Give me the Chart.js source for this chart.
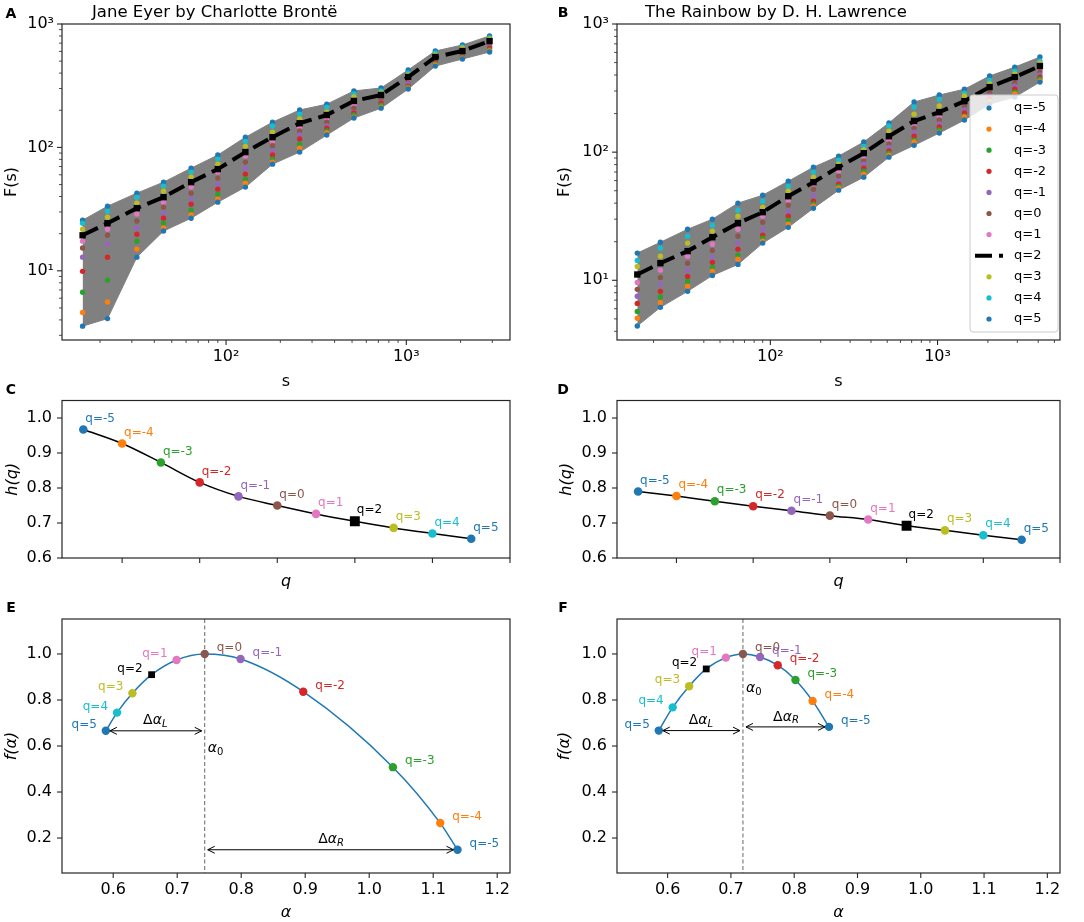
<!DOCTYPE html>
<html>
<head>
<meta charset="utf-8">
<script src="https://cdn.jsdelivr.net/npm/chart.js@4.4.1/dist/chart.umd.min.js"></script>
<style>
  body { margin: 0; background: #fff; width: 1084px; height: 922px; position: relative; overflow: hidden; font-family: "DejaVu Sans", sans-serif; }
  canvas { position: absolute; }
  .panel { position: absolute; font-weight: bold; font-size: 14px; transform: translate(-50%, -50%); }
  .title { position: absolute; font-size: 16.5px; transform: translateY(-50%); white-space: nowrap; }
</style>
</head>
<body>
<canvas id="chartA" width="540" height="400" style="left:0;top:0"></canvas>
<canvas id="chartB" width="544" height="400" style="left:540px;top:0"></canvas>
<canvas id="chartC" width="540" height="200" style="left:0;top:395px"></canvas>
<canvas id="chartD" width="544" height="200" style="left:540px;top:395px"></canvas>
<canvas id="chartE" width="540" height="322" style="left:0;top:600px"></canvas>
<canvas id="chartF" width="544" height="322" style="left:540px;top:600px"></canvas>

<div class="panel" style="left:11px;top:13px">A</div>
<div class="panel" style="left:563px;top:12px">B</div>
<div class="panel" style="left:11px;top:389px">C</div>
<div class="panel" style="left:563px;top:389px">D</div>
<div class="panel" style="left:11px;top:607px">E</div>
<div class="panel" style="left:563px;top:607px">F</div>
<div class="title" style="left:92px;top:11px">Jane Eyer by Charlotte Brontë</div>
<div class="title" style="left:645px;top:11px">The Rainbow by D. H. Lawrence</div>

<script>
const qValues = [-5, -4, -3, -2, -1, 0, 1, 2, 3, 4, 5];
const qColors = ['#1f77b4', '#ff7f0e', '#2ca02c', '#d62728', '#9467bd', '#8c564b',
                 '#e377c2', '#000000', '#bcbd22', '#17becf', '#1f77b4'];

// window sizes s
const janeS = [16, 22, 32, 45, 64, 90, 128, 181, 256, 362, 512, 724, 1024, 1448, 2048, 2896];
const rainbowS = [16, 22, 32, 45, 64, 90, 128, 181, 256, 362, 512, 724, 1024, 1448, 2048, 2896, 4096];

// F_q(s), one row per q (-5 ... 5)
const janeF = [
  [3.56, 4.1, 12.9, 21.0, 26.7, 36.0, 47.7, 73.2, 91.6, 126, 173, 208, 297, 456, 520, 593],
  [4.6, 5.6, 15.0, 22.2, 28.3, 38.1, 51.3, 76.0, 98.6, 131, 176, 212, 303, 465, 528, 604],
  [6.7, 8.4, 17.4, 24.3, 31.0, 41.8, 55.3, 80.4, 106, 136, 183, 220, 308, 474, 535, 615],
  [9.9, 12.9, 19.8, 26.7, 34.7, 45.9, 60.7, 86.7, 117, 143, 190, 229, 314, 483, 545, 638],
  [12.9, 16.5, 22.2, 29.3, 38.1, 50.4, 67.9, 93.4, 126, 149, 193, 233, 326, 492, 556, 651],
  [15.3, 19.4, 25.3, 32.8, 42.6, 56.4, 76.0, 103, 136, 160, 208, 247, 332, 501, 571, 663],
  [17.4, 21.7, 28.8, 36.0, 47.7, 63.1, 85.0, 112, 146, 173, 220, 256, 351, 520, 593, 701],
  [19.4, 24.3, 32.2, 39.5, 52.3, 66.7, 91.6, 121, 157, 183, 238, 266, 372, 540, 604, 727],
  [21.7, 27.2, 35.3, 44.2, 57.4, 73.2, 102, 133, 170, 193, 256, 276, 386, 561, 638, 756],
  [24.3, 30.4, 39.5, 48.6, 63.1, 80.4, 112, 149, 186, 212, 271, 287, 401, 582, 651, 770],
  [25.7, 33.4, 42.6, 52.3, 67.9, 86.7, 121, 160, 201, 224, 287, 303, 424, 604, 676, 800]
];
const rainbowF = [
  [4.4, 6.15, 8.2, 10.9, 13.3, 19.5, 25.9, 36.5, 50.5, 63.8, 91.4, 113, 141, 178, 237, 269, 352],
  [5.05, 6.7, 9.0, 11.8, 14.6, 20.2, 27.4, 37.9, 52.3, 67.3, 94.8, 120, 143, 188, 246, 284, 359],
  [5.7, 7.4, 9.8, 12.6, 15.7, 21.3, 29.4, 39.3, 54.2, 71.1, 98.2, 124, 149, 191, 250, 294, 372],
  [6.6, 8.2, 10.7, 13.8, 17.5, 22.5, 31.6, 41.4, 56.2, 75.0, 102, 133, 157, 202, 264, 310, 385],
  [7.5, 9.3, 12.0, 15.1, 19.5, 25.0, 34.6, 46.1, 59.3, 80.6, 109, 143, 166, 213, 274, 328, 400],
  [8.5, 10.5, 13.6, 17.1, 22.1, 28.4, 38.5, 51.4, 65.0, 85.1, 116, 154, 178, 229, 294, 346, 422],
  [9.6, 12.0, 15.4, 19.1, 25.0, 31.6, 42.2, 56.2, 71.1, 93.1, 124, 163, 191, 237, 305, 359, 438],
  [11.1, 13.6, 16.9, 21.7, 27.9, 34.0, 45.3, 58.3, 76.4, 98.2, 133, 175, 205, 250, 322, 385, 470],
  [12.8, 15.4, 19.5, 24.2, 31.6, 37.2, 49.5, 63.8, 80.6, 104, 146, 198, 229, 274, 340, 407, 496],
  [14.3, 17.8, 22.1, 26.9, 35.2, 41.4, 54.2, 69.8, 86.6, 111, 160, 225, 259, 289, 365, 429, 514],
  [16.3, 19.8, 25.0, 30.0, 40.0, 46.1, 59.3, 76.4, 93.1, 120, 169, 246, 279, 310, 393, 461, 552]
];

// generalized Hurst exponent h(q)
const janeH = [0.967, 0.927, 0.873, 0.816, 0.776, 0.750, 0.726, 0.705, 0.686, 0.670, 0.655];
const rainbowH = [0.790, 0.777, 0.762, 0.748, 0.735, 0.721, 0.710, 0.692, 0.679, 0.665, 0.652];

// singularity spectrum f(alpha)
const janeAlpha = [1.138, 1.111, 1.037, 0.897, 0.799, 0.743, 0.699, 0.660, 0.630, 0.606, 0.5885];
const janeFalpha = [0.149, 0.265, 0.508, 0.836, 0.978, 1.000, 0.974, 0.910, 0.829, 0.745, 0.666];
const rainbowAlpha = [0.855, 0.829, 0.802, 0.774, 0.746, 0.719, 0.692, 0.661, 0.634, 0.608, 0.586];
const rainbowFalpha = [0.683, 0.796, 0.887, 0.951, 0.987, 1.000, 0.984, 0.935, 0.860, 0.768, 0.667];

// tick positions
const sTicksJane = [20, 30, 40, 50, 60, 70, 80, 90, 100, 200, 300, 400, 500, 600, 700, 800, 900, 1000, 2000, 3000];
const sTicksRainbow = [20, 30, 40, 50, 60, 70, 80, 90, 100, 200, 300, 400, 500, 600, 700, 800, 900, 1000, 2000, 3000, 4000, 5000];
const fTicksJane = [3, 4, 5, 6, 7, 8, 9, 10, 20, 30, 40, 50, 60, 70, 80, 90, 100, 200, 300, 400, 500, 600, 700, 800, 900, 1000];
const fTicksRainbow = [4, 5, 6, 7, 8, 9, 10, 20, 30, 40, 50, 60, 70, 80, 90, 100, 200, 300, 400, 500, 600, 700, 800, 900, 1000];
const qTicks = [-4, -2, 0, 2, 4, 6];
const hTicks = [0.6, 0.7, 0.8, 0.9, 1.0];
const alphaTicks = [0.6, 0.7, 0.8, 0.9, 1.0, 1.1, 1.2];
const fAlphaTicks = [0.2, 0.4, 0.6, 0.8, 1.0];

const FONT = '"DejaVu Sans", sans-serif';
const INK = '#000000';
const SPINE = '#262626';
const SUP = { 0: '⁰', 1: '¹', 2: '²', 3: '³', 4: '⁴' };

function isPow10(v) {
  const e = Math.log10(v);
  return Math.abs(e - Math.round(e)) < 1e-9;
}
const logLabel = v => isPow10(v) ? '10' + SUP[Math.round(Math.log10(v))] : '';
const oneDecimal = v => v.toFixed(1);
const noLabel = () => '';

function axis(o, horizontal) {
  const log = o.type === 'logarithmic';
  return {
    type: o.type, min: o.min, max: o.max,
    position: horizontal ? 'bottom' : 'left',
    afterBuildTicks: s => {
      s.ticks = o.ticks.map(v => ({ value: v, major: log ? isPow10(v) : true }));
    },
    afterFit: s => {
      if (horizontal) s.height = o.size; else s.width = o.size;
      s.paddingLeft = s.paddingRight = s.paddingTop = s.paddingBottom = 0;
    },
    grid: { display: false, drawTicks: true, tickLength: 5 },
    border: { display: false },
    ticks: {
      autoSkip: false, maxRotation: 0, minRotation: 0,
      padding: o.tickPad, color: INK,
      font: { family: FONT, size: 16 },
      callback: o.label
    },
    title: {
      display: true, text: o.title, color: INK, padding: o.titlePad,
      font: { family: FONT, size: 16, style: o.italic ? 'italic' : 'normal' }
    }
  };
}

// box round the plot and outward tick marks, like matplotlib
const framePlugin = {
  id: 'frame',
  afterDatasetsDraw(chart) {
    const { ctx, chartArea: a, scales: { x, y } } = chart;
    ctx.save();
    ctx.strokeStyle = SPINE;
    x.ticks.forEach(t => {
      const px = x.getPixelForValue(t.value);
      ctx.lineWidth = t.major ? 1.1 : 0.8;
      ctx.beginPath();
      ctx.moveTo(px, a.bottom);
      ctx.lineTo(px, a.bottom + (t.major ? 5 : 3));
      ctx.stroke();
    });
    y.ticks.forEach(t => {
      const py = y.getPixelForValue(t.value);
      ctx.lineWidth = t.major ? 1.1 : 0.8;
      ctx.beginPath();
      ctx.moveTo(a.left, py);
      ctx.lineTo(a.left - (t.major ? 5 : 3), py);
      ctx.stroke();
    });
    ctx.lineWidth = 1.2;
    ctx.strokeRect(a.left, a.top, a.right - a.left, a.bottom - a.top);
    ctx.restore();
  }
};

const qLegendPlugin = {
  id: 'qLegend',
  afterDraw(chart) {
    const { ctx, chartArea: a } = chart;
    const x0 = a.right - 90, y0 = a.top + 71, w = 88, h = 237;
    ctx.save();
    ctx.beginPath();
    ctx.roundRect(x0, y0, w, h, 3);
    ctx.fillStyle = 'rgba(255,255,255,0.8)';
    ctx.fill();
    ctx.strokeStyle = '#cccccc';
    ctx.lineWidth = 1;
    ctx.stroke();
    ctx.font = `13px ${FONT}`;
    ctx.textAlign = 'left';
    ctx.textBaseline = 'middle';
    qValues.forEach((q, i) => {
      const cy = y0 + 13 + i * 21.1;
      if (q === 2) {
        ctx.strokeStyle = '#000';
        ctx.lineWidth = 4;
        ctx.setLineDash([17, 7]);
        ctx.beginPath();
        ctx.moveTo(x0 + 5, cy);
        ctx.lineTo(x0 + 33, cy);
        ctx.stroke();
        ctx.setLineDash([]);
      } else {
        ctx.fillStyle = qColors[i];
        ctx.beginPath();
        ctx.arc(x0 + 19, cy, 2.6, 0, Math.PI * 2);
        ctx.fill();
      }
      ctx.fillStyle = INK;
      ctx.fillText('q=' + q, x0 + 44, cy);
    });
    ctx.restore();
  }
};

function fluctuationDatasets(sVals, F) {
  const pts = row => row.map((v, j) => ({ x: sVals[j], y: v }));
  const marks = F.map((row, i) => qValues[i] === 2 ? {
    data: pts(row), borderColor: '#000', borderWidth: 4, borderDash: [17, 7],
    pointStyle: 'rect', pointRadius: 4.5, pointBackgroundColor: '#000', pointBorderWidth: 0, order: 1
  } : {
    data: pts(row), showLine: false, pointRadius: 2.7,
    pointBackgroundColor: qColors[i], pointBorderWidth: 0, order: 2
  });
  const last = F.length - 1;
  const grey = F.map((row, i) => ({
    data: pts(row), borderColor: 'gray', borderWidth: 1, pointRadius: 0,
    backgroundColor: 'gray', fill: i === last ? marks.length : false, order: 3
  }));
  return marks.concat(grey);
}

function baseOptions(padding, scales) {
  return {
    responsive: false, animation: false, events: [],
    layout: { padding },
    plugins: {
      legend: { display: false }, tooltip: { enabled: false },
      filler: { drawTime: 'beforeDatasetsDraw' }
    },
    scales
  };
}

function fluctuationChart(id, sVals, F, c) {
  const plugins = [framePlugin];
  if (c.legend) plugins.push(qLegendPlugin);
  new Chart(document.getElementById(id), {
    type: 'line',
    data: { datasets: fluctuationDatasets(sVals, F) },
    options: baseOptions({ left: 0, top: 24, right: c.padRight, bottom: 0 }, {
      x: axis({ type: 'logarithmic', min: c.xMin, max: c.xMax, ticks: c.xTicks, label: logLabel,
                title: 's', titlePad: 8.4, tickPad: 2.4, size: 60 }, true),
      y: axis({ type: 'logarithmic', min: c.yMin, max: 1000, ticks: c.yTicks, label: logLabel,
                title: 'F(s)', titlePad: c.yTitlePad, tickPad: 3, size: c.yWidth }, false)
    }),
    plugins
  });
}

function hurstChart(id, h, c) {
  const data = qValues.map((q, i) => ({ x: q, y: h[i] }));
  const labels = {
    id: 'hLabels',
    afterDatasetsDraw(chart) {
      const { ctx, scales: { x, y } } = chart;
      ctx.save();
      ctx.font = `12px ${FONT}`;
      ctx.textAlign = 'left';
      ctx.textBaseline = 'middle';
      qValues.forEach((q, i) => {
        ctx.fillStyle = qColors[i];
        ctx.fillText('q=' + q, x.getPixelForValue(q) + 2, y.getPixelForValue(h[i]) - 11);
      });
      ctx.restore();
    }
  };
  new Chart(document.getElementById(id), {
    type: 'line',
    data: { datasets: [
      { data, showLine: false, pointRadius: qValues.map(q => q === 2 ? 7 : 4.3),
        pointStyle: qValues.map(q => q === 2 ? 'rect' : 'circle'),
        pointBackgroundColor: qColors, pointBorderWidth: 0, order: 1 },
      { data, borderColor: '#000', borderWidth: 1.5, pointRadius: 0,
        cubicInterpolationMode: 'monotone', order: 2 }
    ] },
    options: baseOptions({ left: 0, top: 5.5, right: c.padRight, bottom: 0 }, {
      x: axis({ type: 'linear', min: -5.55, max: 6, ticks: qTicks, label: noLabel,
                title: 'q', italic: true, titlePad: 3.4, tickPad: 2, size: 37 }, true),
      y: axis({ type: 'linear', min: 0.6, max: 1.05, ticks: hTicks, label: oneDecimal,
                title: 'h(q)', italic: true, titlePad: c.yTitlePad, tickPad: 5, size: c.yWidth }, false)
    }),
    plugins: [labels, framePlugin]
  });
}

function mathText(ctx, parts, x, y, align) {
  const fontFor = p => `${p.italic ? 'italic ' : ''}${p.sub ? 10 : 14}px ${FONT}`;
  let w = 0;
  parts.forEach(p => { ctx.font = fontFor(p); p.w = ctx.measureText(p.t).width; w += p.w; });
  let cx = align === 'center' ? x - w / 2 : x;
  ctx.textAlign = 'left';
  ctx.textBaseline = 'middle';
  ctx.fillStyle = INK;
  parts.forEach(p => {
    ctx.font = fontFor(p);
    ctx.fillText(p.t, cx, y + (p.sub ? 4 : 0));
    cx += p.w;
  });
}

function arrow(ctx, x1, x2, y) {
  ctx.beginPath();
  ctx.moveTo(x1, y); ctx.lineTo(x2, y);
  ctx.moveTo(x1 + 7, y - 3.5); ctx.lineTo(x1, y); ctx.lineTo(x1 + 7, y + 3.5);
  ctx.moveTo(x2 - 7, y - 3.5); ctx.lineTo(x2, y); ctx.lineTo(x2 - 7, y + 3.5);
  ctx.stroke();
}

function spectrumChart(id, alpha, fa, c) {
  const points = qValues.map((q, i) => ({ x: alpha[i], y: fa[i] }));
  const curve = points.slice().sort((p, r) => p.x - r.x);
  const notes = {
    id: 'spectrumNotes',
    afterDatasetsDraw(chart) {
      const { ctx, chartArea: a, scales: { x, y } } = chart;
      const i0 = qValues.indexOf(0), iL = qValues.indexOf(5), iR = qValues.indexOf(-5);
      const x0 = x.getPixelForValue(alpha[i0]);
      const xL = x.getPixelForValue(alpha[iL]), yL = y.getPixelForValue(fa[iL]);
      const xR = x.getPixelForValue(alpha[iR]), yR = y.getPixelForValue(fa[iR]);
      ctx.save();
      ctx.strokeStyle = '#666';
      ctx.lineWidth = 1;
      ctx.setLineDash([4, 2.5]);
      ctx.beginPath();
      ctx.moveTo(x0, a.top); ctx.lineTo(x0, a.bottom);
      ctx.stroke();
      ctx.setLineDash([]);
      ctx.strokeStyle = '#000';
      arrow(ctx, xL + 4, x0 - 3, yL);
      arrow(ctx, x0 + 3, xR - 4, yR);
      mathText(ctx, [{ t: 'Δ' }, { t: 'α', italic: true }, { t: 'L', italic: true, sub: true }], (xL + x0) / 2, yL - 10, 'center');
      mathText(ctx, [{ t: 'Δ' }, { t: 'α', italic: true }, { t: 'R', italic: true, sub: true }], (x0 + xR) / 2, yR - 10, 'center');
      mathText(ctx, [{ t: 'α', italic: true }, { t: '0', sub: true }], x0 + 3, y.getPixelForValue(c.alpha0LabelAt), 'left');
      ctx.font = `12px ${FONT}`;
      ctx.textBaseline = 'middle';
      qValues.forEach((q, i) => {
        const px = x.getPixelForValue(alpha[i]), py = y.getPixelForValue(fa[i]);
        ctx.fillStyle = qColors[i];
        if (q > 0) { ctx.textAlign = 'right'; ctx.fillText('q=' + q, px - 9, py - 6); }
        else { ctx.textAlign = 'left'; ctx.fillText('q=' + q, px + 12, py - 6); }
      });
      ctx.restore();
    }
  };
  new Chart(document.getElementById(id), {
    type: 'line',
    data: { datasets: [
      { data: points, showLine: false, pointRadius: qValues.map(q => q === 2 ? 4.8 : 4.2),
        pointStyle: qValues.map(q => q === 2 ? 'rect' : 'circle'),
        pointBackgroundColor: qColors, pointBorderWidth: 0, order: 1 },
      { data: curve, borderColor: '#1f77b4', borderWidth: 1.5, pointRadius: 0,
        cubicInterpolationMode: 'monotone', order: 2 }
    ] },
    options: baseOptions({ left: 0, top: 19, right: c.padRight, bottom: 0 }, {
      x: axis({ type: 'linear', min: 0.52, max: 1.22, ticks: alphaTicks, label: oneDecimal,
                title: 'α', italic: true, titlePad: 0, tickPad: 2.4, size: 49 }, true),
      y: axis({ type: 'linear', min: 0.048, max: 1.152, ticks: fAlphaTicks, label: oneDecimal,
                title: 'f(α)', italic: true, titlePad: c.yTitlePad, tickPad: 5, size: c.yWidth }, false)
    }),
    plugins: [notes, framePlugin]
  });
}

fluctuationChart('chartA', janeS, janeF, {
  xMin: 12.3, xMax: 3760, yMin: 2.75, xTicks: sTicksJane, yTicks: fTicksJane,
  yWidth: 62, padRight: 30, yTitlePad: 2.4
});
fluctuationChart('chartB', rainbowS, rainbowF, {
  xMin: 12.1, xMax: 5400, yMin: 3.42, xTicks: sTicksRainbow, yTicks: fTicksRainbow,
  yWidth: 77, padRight: 24, yTitlePad: 15.4, legend: true
});
hurstChart('chartC', janeH, { yWidth: 62, padRight: 30, yTitlePad: 3.4 });
hurstChart('chartD', rainbowH, { yWidth: 77, padRight: 24, yTitlePad: 17.4 });
spectrumChart('chartE', janeAlpha, janeFalpha, { yWidth: 62, padRight: 30, yTitlePad: 2.4, alpha0LabelAt: 0.59 });
spectrumChart('chartF', rainbowAlpha, rainbowFalpha, { yWidth: 77, padRight: 24, yTitlePad: 15.4, alpha0LabelAt: 0.85 });
</script>
</body>
</html>
